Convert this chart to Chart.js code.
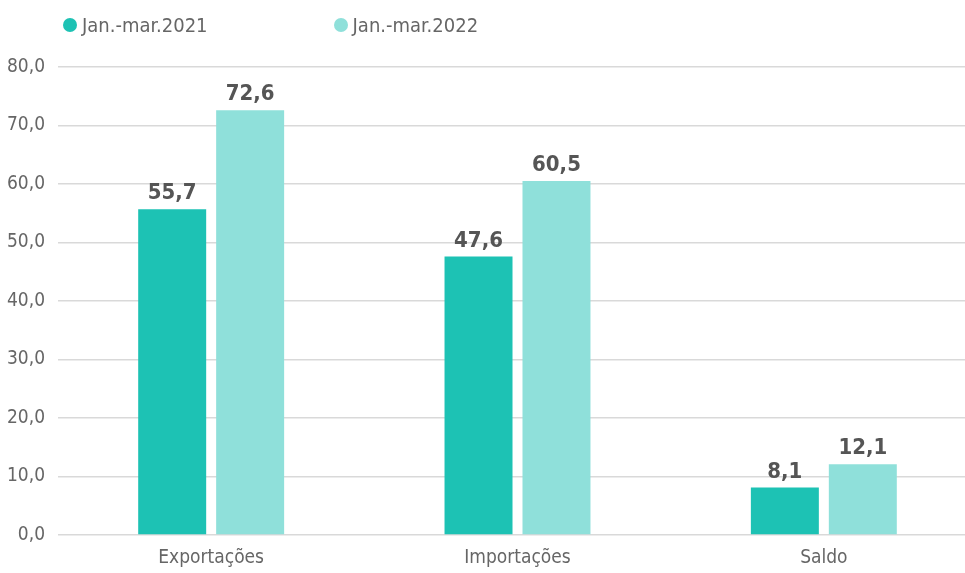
<!DOCTYPE html>
<html>
<head>
<meta charset="utf-8">
<script src="https://cdn.jsdelivr.net/npm/chart.js@4"></script>
<style>
  body { margin: 0; background: #fff; font-family: 'DejaVu Sans Condensed', sans-serif; }
  #wrap { position: relative; width: 965px; height: 573px; overflow: hidden; }
  #legend { position: absolute; top: 13px; left: 63px; display: flex; font-size: 20px; color: #666; }
  #legend span.item { display: flex; align-items: center; margin-right: 126px; }
  #legend i { display: inline-block; width: 14px; height: 14px; border-radius: 50%; margin-right: 5px; }
</style>
</head>
<body>
<div id="wrap">
  <div id="legend"></div>
  <canvas id="chart" width="980" height="573"></canvas>
</div>
<script>
const categories = ["Exportações", "Importações", "Saldo"];
const series2021 = [55.7, 47.6, 8.1];
const series2022 = [72.6, 60.5, 12.1];
const seriesNames = ["Jan.-mar.2021", "Jan.-mar.2022"];
const seriesColors = ["#1dc2b4", "#8fe0da"];

const FONT = "'DejaVu Sans Condensed', sans-serif";
const fmt = v => v.toFixed(1).replace(".", ",");

// legend drawn as html so the two items can sit far apart
document.getElementById("legend").innerHTML = seriesNames.map((n, i) =>
  `<span class="item"><i style="background:${seriesColors[i]}"></i>${n}</span>`
).join("");

// value labels above each bar
const barLabels = {
  id: "barLabels",
  afterDatasetsDraw(chart) {
    const ctx = chart.ctx;
    ctx.save();
    ctx.font = `bold 22px ${FONT}`;
    ctx.fillStyle = "#555";
    ctx.textAlign = "center";
    ctx.textBaseline = "alphabetic";
    chart.data.datasets.forEach((ds, i) => {
      chart.getDatasetMeta(i).data.forEach((bar, j) => {
        ctx.fillText(fmt(ds.data[j]), bar.x, bar.y - 10);
      });
    });
    ctx.restore();
  }
};

new Chart(document.getElementById("chart"), {
  type: "bar",
  data: {
    labels: categories,
    datasets: [
      { label: seriesNames[0], data: series2021, backgroundColor: seriesColors[0] },
      { label: seriesNames[1], data: series2022, backgroundColor: seriesColors[1] }
    ]
  },
  options: {
    responsive: false,
    animation: false,
    layout: { padding: { top: 67, left: 0, right: 3, bottom: 0 } },
    datasets: { bar: { categoryPercentage: 0.509, barPercentage: 0.872 } },
    scales: {
      x: {
        afterFit: scale => { scale.height = 38; },
        grid: { display: false },
        border: { display: false },
        ticks: { color: "#666", font: { family: FONT, size: 19 }, padding: 4 }
      },
      y: {
        min: 0,
        max: 80,
        afterFit: scale => { scale.width = 58; },
        ticks: { stepSize: 10, color: "#666", font: { family: FONT, size: 19 }, padding: 13, callback: v => fmt(v) },
        grid: { color: "#d9d9d9", lineWidth: 1.5, drawTicks: false },
        border: { display: false }
      }
    },
    plugins: {
      legend: { display: false },
      tooltip: { enabled: false }
    }
  },
  plugins: [barLabels]
});
</script>
</body>
</html>
